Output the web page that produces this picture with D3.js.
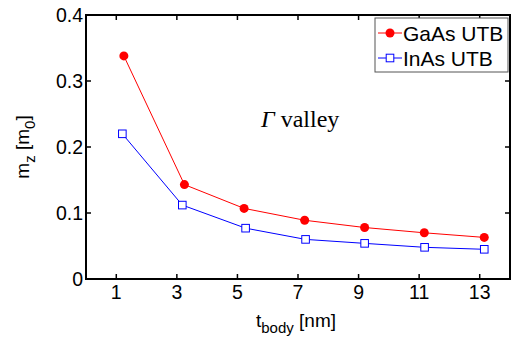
<!DOCTYPE html>
<html>
<head>
<meta charset="utf-8">
<script src="https://cdn.jsdelivr.net/npm/d3@7"></script>
<style>
  body { margin: 0; background: #fff; }
  .tick-text { font-family: "Liberation Sans", Arial, sans-serif; font-size: 19.5px; fill: #000; }
  .legend-text { font-family: "Liberation Sans", Arial, sans-serif; font-size: 21px; fill: #000; }
  .label-text { font-family: "Liberation Sans", Arial, sans-serif; font-size: 19px; fill: #000; }
  .note-text { font-family: "Liberation Serif", "Times New Roman", serif; font-size: 24px; fill: #000; }
</style>
</head>
<body>
<svg id="chart" width="514" height="340"></svg>
<script>
// thickness of the body (nm)
const tBodyGaAs = [1.25, 3.25, 5.22, 7.22, 9.2, 11.17, 13.15];
const tBodyInAs = [1.2, 3.18, 5.27, 7.25, 9.2, 11.18, 13.15];
// effective mass m_z in m0
const mzGaAs = [0.338, 0.143, 0.107, 0.089, 0.078, 0.07, 0.063];
const mzInAs = [0.220, 0.112, 0.077, 0.060, 0.054, 0.048, 0.045];
const xTicks = [1, 3, 5, 7, 9, 11, 13];
const yTicks = [0, 0.1, 0.2, 0.3, 0.4];
const seriesNames = ["GaAs UTB", "InAs UTB"];

function drawMassChart(svgId) {
    var svg = d3.select("#" + svgId);
    const left = 86, right = 510, top = 15, bottom = 279;

    var x = d3.scaleLinear().domain([0, 14]).range([left, right]);
    var y = d3.scaleLinear().domain([0, 0.4]).range([bottom, top]);

    // frame
    svg.append("rect")
        .attr("x", left).attr("y", top)
        .attr("width", right - left).attr("height", bottom - top)
        .attr("fill", "none").attr("stroke", "#000").attr("stroke-width", 2);

    // inward ticks on all four sides
    var tickLen = 5;
    xTicks.forEach(function(t) {
        svg.append("line").attr("x1", x(t)).attr("x2", x(t))
            .attr("y1", bottom).attr("y2", bottom - tickLen)
            .attr("stroke", "#000").attr("stroke-width", 1.5);
        svg.append("line").attr("x1", x(t)).attr("x2", x(t))
            .attr("y1", top).attr("y2", top + tickLen)
            .attr("stroke", "#000").attr("stroke-width", 1.5);
        svg.append("text").attr("class", "tick-text")
            .attr("x", x(t)).attr("y", bottom + 20)
            .attr("text-anchor", "middle")
            .text(t);
    });
    yTicks.forEach(function(t) {
        svg.append("line").attr("x1", left).attr("x2", left + tickLen)
            .attr("y1", y(t)).attr("y2", y(t))
            .attr("stroke", "#000").attr("stroke-width", 1.5);
        svg.append("line").attr("x1", right).attr("x2", right - tickLen)
            .attr("y1", y(t)).attr("y2", y(t))
            .attr("stroke", "#000").attr("stroke-width", 1.5);
        svg.append("text").attr("class", "tick-text")
            .attr("x", left - 3).attr("y", y(t) + 7)
            .attr("text-anchor", "end")
            .text(t === 0 ? "0" : d3.format(".1f")(t));
    });

    // axis labels
    var xl = svg.append("text").attr("class", "label-text")
        .attr("x", 296).attr("y", 327).attr("text-anchor", "middle");
    xl.append("tspan").text("t");
    xl.append("tspan").attr("dy", 6).attr("font-size", "15px").text("body");
    xl.append("tspan").attr("dy", -6).text(" [nm]");

    var yl = svg.append("text").attr("class", "label-text")
        .attr("transform", "translate(29,147) rotate(-90)")
        .attr("text-anchor", "middle");
    yl.append("tspan").text("m");
    yl.append("tspan").attr("dy", 6).attr("font-size", "15px").text("z");
    yl.append("tspan").attr("dy", -6).text(" [m");
    yl.append("tspan").attr("dy", 6).attr("font-size", "15px").text("0");
    yl.append("tspan").attr("dy", -6).text("]");

    // annotation
    var note = svg.append("text").attr("class", "note-text")
        .attr("x", 261).attr("y", 127);
    note.append("tspan").attr("font-style", "italic").text("Γ");
    note.append("tspan").text(" valley");

    var line = d3.line().x(function(d) { return x(d[0]); }).y(function(d) { return y(d[1]); });
    var gaas = d3.zip(tBodyGaAs, mzGaAs);
    var inas = d3.zip(tBodyInAs, mzInAs);

    svg.append("path").datum(gaas).attr("d", line)
        .attr("fill", "none").attr("stroke", "#ff0000").attr("stroke-width", 1);
    svg.append("path").datum(inas).attr("d", line)
        .attr("fill", "none").attr("stroke", "#0000ff").attr("stroke-width", 1);

    svg.selectAll(".pt-gaas").data(gaas).enter().append("circle")
        .attr("class", "pt-gaas")
        .attr("cx", function(d) { return x(d[0]); })
        .attr("cy", function(d) { return y(d[1]); })
        .attr("r", 4.5).attr("fill", "#ff0000");
    svg.selectAll(".pt-inas").data(inas).enter().append("rect")
        .attr("class", "pt-inas")
        .attr("x", function(d) { return x(d[0]) - 3.8; })
        .attr("y", function(d) { return y(d[1]) - 3.8; })
        .attr("width", 7.6).attr("height", 7.6)
        .attr("fill", "#fff").attr("stroke", "#0000ff").attr("stroke-width", 1);

    // legend
    var lg = svg.append("g").attr("transform", "translate(375,18)");
    lg.append("rect").attr("width", 133).attr("height", 54)
        .attr("fill", "#fff").attr("stroke", "#555").attr("stroke-width", 1);
    seriesNames.forEach(function(name, i) {
        var cy = 15 + i * 25;
        var color = i == 0 ? "#ff0000" : "#0000ff";
        lg.append("line").attr("x1", 3).attr("x2", 27).attr("y1", cy).attr("y2", cy)
            .attr("stroke", color).attr("stroke-width", 1);
        if (i == 0) {
            lg.append("circle").attr("cx", 15).attr("cy", cy).attr("r", 4.5).attr("fill", color);
        } else {
            lg.append("rect").attr("x", 11.2).attr("y", cy - 3.8).attr("width", 7.6).attr("height", 7.6)
                .attr("fill", "#fff").attr("stroke", color).attr("stroke-width", 1);
        }
        lg.append("text").attr("class", "legend-text")
            .attr("x", 28).attr("y", cy + 7.5)
            .text(name);
    });
}

drawMassChart("chart");
</script>
</body>
</html>
